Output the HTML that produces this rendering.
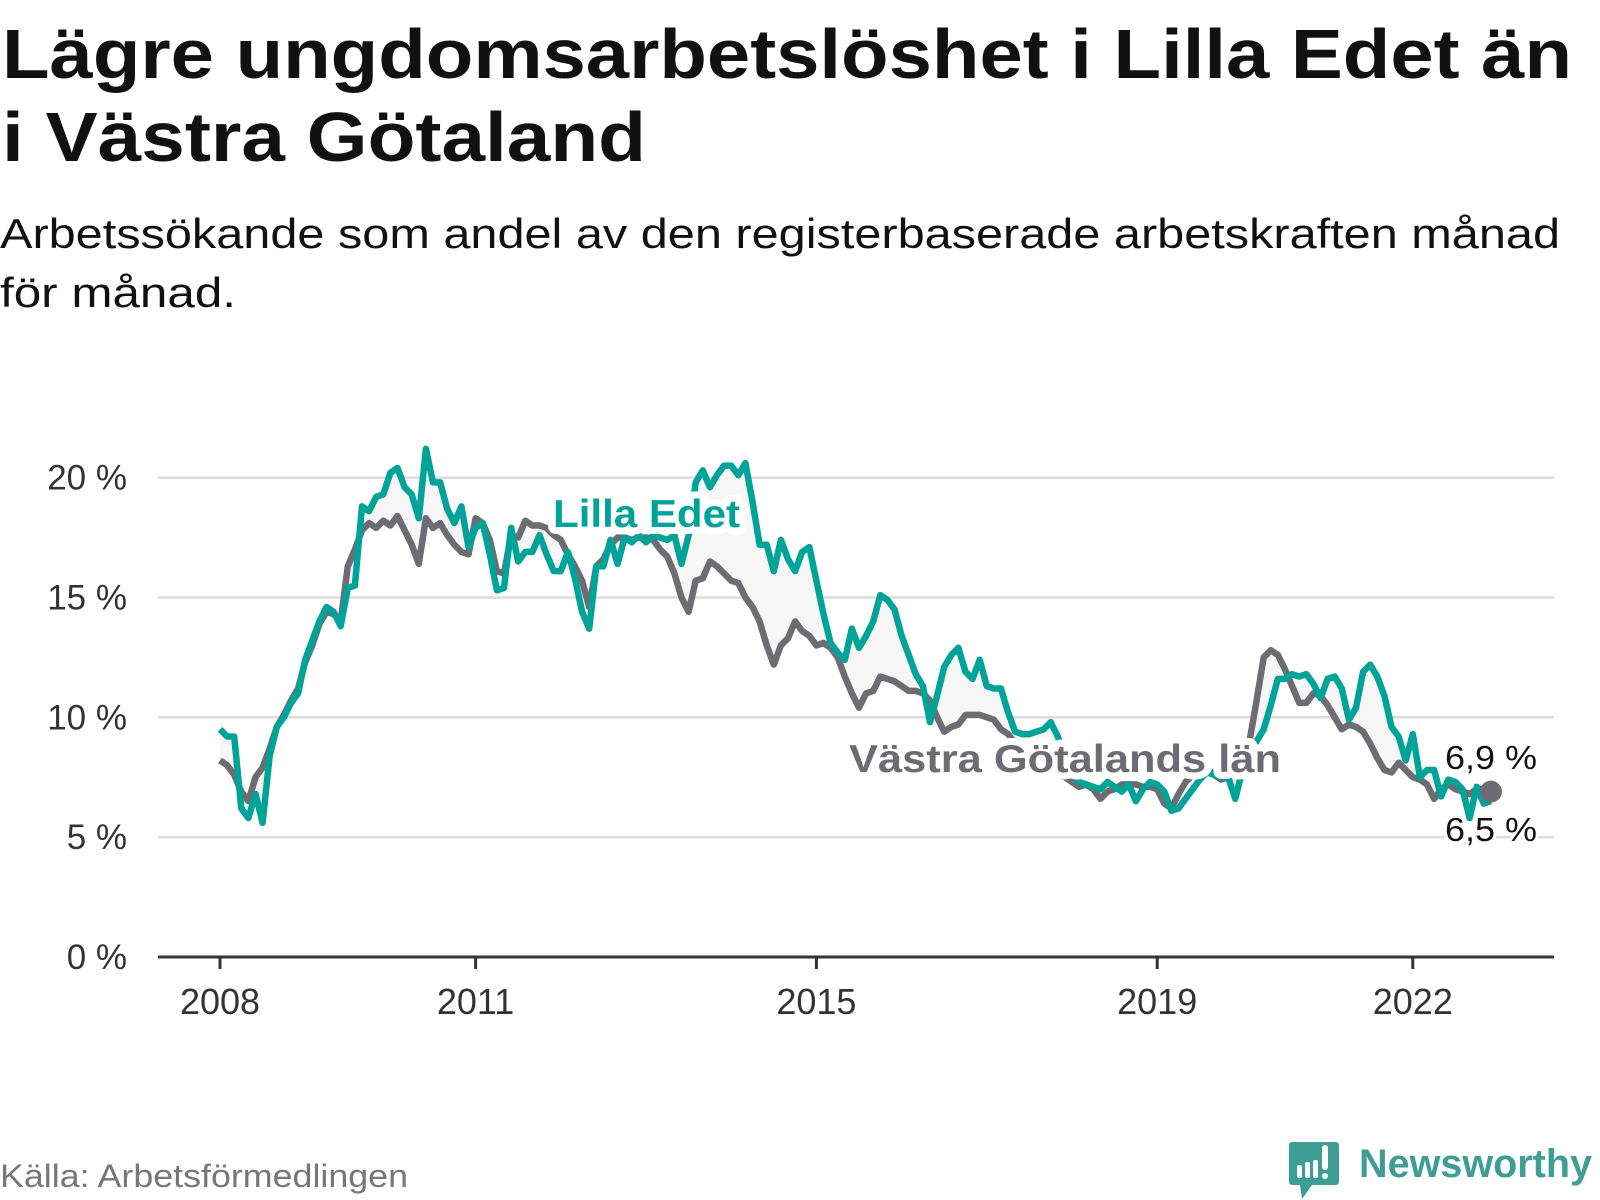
<!DOCTYPE html>
<html><head><meta charset="utf-8">
<style>
html,body{margin:0;padding:0;background:#fff;}
svg{display:block;}
text{font-family:"Liberation Sans",sans-serif;}
</style></head>
<body>
<svg id="chart" width="1600" height="1200" viewBox="0 0 1600 1200" xmlns="http://www.w3.org/2000/svg">
<text x="2" y="78" font-size="70" font-weight="bold" fill="#111" textLength="1570" lengthAdjust="spacingAndGlyphs">Lägre ungdomsarbetslöshet i Lilla Edet än</text>
<text x="2" y="161" font-size="70" font-weight="bold" fill="#111" textLength="644" lengthAdjust="spacingAndGlyphs">i Västra Götaland</text>
<text x="0" y="248" font-size="42" fill="#111" textLength="1560" lengthAdjust="spacingAndGlyphs">Arbetssökande som andel av den registerbaserade arbetskraften månad</text>
<text x="0" y="307" font-size="42" fill="#111" textLength="236" lengthAdjust="spacingAndGlyphs">för månad.</text>
<g id="grid"></g>
<g id="ylabels"></g>
<g id="xaxis"></g>
<g id="series"></g>
<text x="0" y="1187" font-size="32" fill="#777" textLength="408" lengthAdjust="spacingAndGlyphs">Källa: Arbetsförmedlingen</text>
<g>
<path d="M1292 1142 h44 a3 3 0 0 1 3 3 v37 a3 3 0 0 1 -3 3 h-24 l-10 14 l-2 -14 h-8 a3 3 0 0 1 -3 -3 v-37 a3 3 0 0 1 3 -3z" fill="#3e9e95"/>
<rect x="1297" y="1165" width="5" height="13" rx="2" fill="#fff"/>
<rect x="1305" y="1162" width="5" height="16" rx="2" fill="#fff"/>
<rect x="1313" y="1160" width="5" height="18" rx="2" fill="#fff"/>
<rect x="1322" y="1145" width="6" height="25" rx="3" fill="#fff"/>
<circle cx="1325" cy="1176" r="3" fill="#fff"/>
<text x="1359" y="1177" font-size="40" font-weight="bold" fill="#3e9e95" textLength="233" lengthAdjust="spacingAndGlyphs">Newsworthy</text>
</g>
</svg>
<script>
const years = [2008, 2011, 2015, 2019, 2022];
const yTicks = [0, 5, 10, 15, 20];
const yTickLabels = ["0 %", "5 %", "10 %", "15 %", "20 %"];
const lillaEdet = [
9.5,9.2,9.2,6.2,5.8,6.8,5.6,8.4,9.6,10.0,10.6,11.0,
12.4,13.2,14.0,14.6,14.4,13.8,15.4,15.5,18.8,18.6,19.2,19.3,
20.2,20.4,19.6,19.3,18.3,21.2,19.8,19.8,18.7,18.1,18.8,17.1,
17.9,18.1,16.8,15.3,15.4,17.9,16.5,16.9,16.9,17.6,16.8,16.1,
16.1,16.9,15.8,14.4,13.7,16.3,16.3,17.4,16.4,17.5,17.3,17.6,
17.3,17.6,17.5,17.4,17.6,16.4,17.6,19.8,20.3,19.6,20.1,20.5,
20.5,20.1,20.6,19.0,17.2,17.2,16.1,17.4,16.6,16.1,16.9,17.1,
15.7,14.3,13.1,12.7,12.4,13.7,12.9,13.4,14.0,15.1,14.9,14.5,
13.4,12.6,11.8,11.3,9.8,10.9,12.1,12.6,12.9,11.9,11.6,12.4,
11.3,11.2,11.2,10.2,9.4,9.3,9.3,9.4,9.5,9.8,9.2,8.3,
7.7,7.3,7.2,7.1,7.0,7.3,7.1,6.9,7.2,6.5,7.0,7.3,
7.2,6.9,6.1,6.2,6.6,7.0,7.4,7.7,7.6,7.5,7.5,6.6,
7.8,8.4,9.0,9.5,10.5,11.6,11.6,11.8,11.7,11.8,11.4,10.8,
11.6,11.7,11.2,9.9,10.4,11.9,12.2,11.7,10.9,9.6,9.2,8.2,
9.3,7.5,7.8,7.8,6.7,7.4,7.3,7.0,5.8,7.1,6.4,6.5];
const vastraGotaland = [
8.2,8.0,7.6,6.9,6.5,7.5,7.9,8.7,9.6,10.1,10.7,11.2,
12.3,13.0,13.9,14.4,14.3,14.0,16.3,17.0,17.8,18.1,17.9,18.2,
18.0,18.4,17.8,17.2,16.4,18.3,17.9,18.1,17.6,17.2,16.9,16.8,
18.3,18.1,17.4,16.1,16.0,17.6,17.5,18.2,18.0,18.0,17.9,17.6,
17.4,16.8,16.3,15.7,14.6,16.3,16.6,17.2,17.5,17.5,17.4,17.5,
17.5,17.4,17.0,16.7,16.0,15.0,14.4,15.7,15.8,16.5,16.3,16.0,
15.7,15.6,15.0,14.6,14.0,13.0,12.2,13.0,13.3,14.0,13.6,13.4,
13.0,13.1,12.9,12.5,11.7,11.0,10.4,11.0,11.1,11.7,11.6,11.5,
11.3,11.1,11.1,11.0,10.7,10.0,9.4,9.6,9.7,10.1,10.1,10.1,
10.0,9.9,9.5,9.3,8.9,8.6,8.6,8.3,8.0,7.8,7.6,7.5,
7.3,7.1,7.2,7.0,6.6,6.9,7.0,7.2,7.2,7.2,7.1,7.1,
7.0,6.4,6.2,6.8,7.3,7.6,7.8,7.9,7.6,7.4,7.5,7.9,
8.5,9.0,10.7,12.5,12.8,12.6,12.0,11.3,10.6,10.6,11.0,10.9,
10.5,10.0,9.5,9.7,9.6,9.4,8.9,8.3,7.8,7.7,8.1,7.8,
7.5,7.4,7.2,6.6,7.0,7.2,7.0,6.9,6.8,7.0,7.0,6.9];

const NS = "http://www.w3.org/2000/svg";
const X0 = 220, PX_PER_YEAR = 85.2, Y0 = 957, PX_PER_PCT = 23.97;
const PLOT_L = 158, PLOT_R = 1554;
function xMonth(i){ return X0 + i * PX_PER_YEAR / 12; }
function xYear(yr){ return X0 + (yr - 2008) * PX_PER_YEAR; }
function yVal(v){ return Y0 - v * PX_PER_PCT; }
function mk(tag, attrs, parent){ const e = document.createElementNS(NS, tag); for (const k in attrs) e.setAttribute(k, attrs[k]); parent.appendChild(e); return e; }

const grid = document.getElementById('grid');
const yl = document.getElementById('ylabels');
yTicks.forEach((t, k) => {
  if (t > 0) {
    const g = mk('line', {x1: PLOT_L, x2: PLOT_R, y1: yVal(t), y2: yVal(t), stroke: '#dcdcdc', 'stroke-width': 2.5}, grid);
    
    
  }
  const lb = mk('text', {x: 127, y: yVal(t) + 12, 'text-anchor': 'end', 'font-size': 35, fill: '#333'}, yl);
  lb.textContent = yTickLabels[k];
  
  
});
const xa = document.getElementById('xaxis');
const axl = mk('line', {x1: PLOT_L, x2: PLOT_R, y1: Y0, y2: Y0, stroke: '#333', 'stroke-width': 3}, xa);


years.forEach(yr => {
  const tk = mk('line', {x1: xYear(yr), x2: xYear(yr), y1: Y0, y2: Y0 + 12, stroke: '#333', 'stroke-width': 3}, xa);
  
  
  const lb = mk('text', {x: xYear(yr), y: 1014, 'text-anchor': 'middle', 'font-size': 36, fill: '#333'}, xa);
  lb.textContent = String(yr);
  
  
});

const sg = document.getElementById('series');
function pts(arr){ return arr.map((v, i) => xMonth(i).toFixed(1) + ',' + yVal(v).toFixed(1)); }
const fillPts = pts(lillaEdet).concat(pts(vastraGotaland).reverse());
const area = mk('polygon', {points: fillPts.join(' '), fill: '#f6f6f6'}, sg);


const gl = mk('polyline', {points: pts(vastraGotaland).join(' '), fill: 'none', stroke: '#6e6c73', 'stroke-width': 6.5, 'stroke-linejoin': 'round'}, sg);


const tl = mk('polyline', {points: pts(lillaEdet).join(' '), fill: 'none', stroke: '#00a398', 'stroke-width': 6.5, 'stroke-linejoin': 'round'}, sg);


const last = vastraGotaland.length - 1;
const dot = mk('circle', {cx: xMonth(last), cy: yVal(vastraGotaland[last]), r: 11, fill: '#6e6c73'}, sg);



function label(txt, x, y, size, color, weight, name, len, halo){
  const a = {x: x, y: y, 'font-size': size, 'font-weight': weight, fill: color, stroke: '#fff', 'stroke-width': halo, 'stroke-linejoin': 'round', 'paint-order': 'stroke'};
  if (len) { a.textLength = len; a.lengthAdjust = 'spacingAndGlyphs'; }
  const t = mk('text', a, sg);
  t.textContent = txt;
  
  
}
label('Lilla Edet', 553, 527, 39, '#00a398', 'bold', 'lilla-edet-label', 187, 14);
label('Västra Götalands län', 849, 772, 39, '#6e6c73', 'bold', 'vastra-gotaland-label', 432, 14);
label(String(vastraGotaland[last]).replace('.', ',') + ' %', 1445, 769, 33, '#111', 'normal', 'vastra-gotaland-end-value', 92, 6);
label(String(lillaEdet[last]).replace('.', ',') + ' %', 1445, 841, 33, '#111', 'normal', 'lilla-edet-end-value', 92, 6);
</script>
</body></html>
